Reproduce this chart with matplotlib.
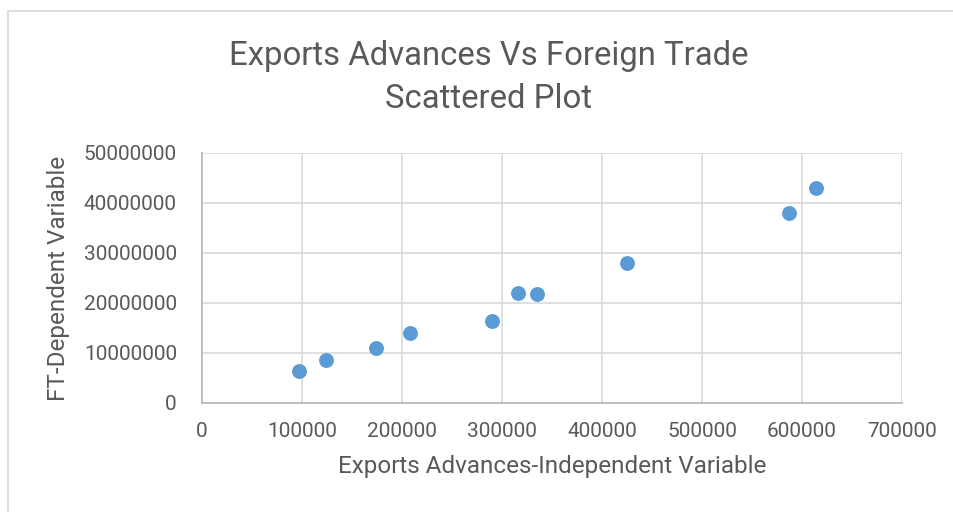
import matplotlib
matplotlib.use("Agg")
import matplotlib.pyplot as plt
from matplotlib.patches import Rectangle

# values
exports_advances = [97500, 124000, 174000, 208000, 290500, 316000, 335000, 425500, 587500, 614000]
foreign_trade = [6430000, 8700000, 11000000, 14000000, 16500000, 22000000, 21900000, 28100000, 37950000, 42900000]
x_ticks = [0, 100000, 200000, 300000, 400000, 500000, 600000, 700000]
y_ticks = [0, 10000000, 20000000, 30000000, 40000000, 50000000]

title = "Exports Advances Vs Foreign Trade\nScattered Plot"
x_label = "Exports Advances-Independent Variable"
y_label = "FT-Dependent Variable"

text_color = "#595959"
plt.rcParams["font.family"] = ["Roboto", "DejaVu Sans"]

fig = plt.figure(figsize=(9.54, 5.12), dpi=100)

# chart frame like an Excel chart box
fig.patches.append(Rectangle((8.5 / 954, -0.1), 1.2, (512 - 11) / 512 + 0.1,
                             transform=fig.transFigure, fill=False,
                             edgecolor="#D9D9D9", linewidth=1.2))

ax = fig.add_axes([202 / 954, 109 / 512, 700 / 954, 250 / 512])
ax.scatter(exports_advances, foreign_trade, s=115, color="#5B9BD5",
           linewidths=0, zorder=3)

ax.set_xlim(0, 700000)
ax.set_ylim(0, 50000000)
ax.set_xticks(x_ticks)
ax.set_yticks(y_ticks)
ax.set_xticklabels([str(v) for v in x_ticks])
ax.set_yticklabels([str(v) for v in y_ticks])
ax.tick_params(length=0, labelsize=15, colors=text_color)
ax.tick_params(axis="x", pad=14)
ax.tick_params(axis="y", pad=18)

ax.grid(True, color="#D9D9D9", linewidth=1.2)
ax.set_axisbelow(True)
for side in ["top", "right"]:
    ax.spines[side].set_visible(False)
for side in ["left", "bottom"]:
    ax.spines[side].set_color("#BFBFBF")
    ax.spines[side].set_linewidth(1.4)

fig.text(489 / 954, 1 - 77.5 / 512, title, ha="center", va="center",
         fontsize=23.7, color=text_color, linespacing=1.43)
ax.set_xlabel(x_label, fontsize=17.5, color=text_color, labelpad=10)
ax.set_ylabel(y_label, fontsize=17.5, color=text_color, labelpad=10)

fig.savefig("out.png", dpi=100)
